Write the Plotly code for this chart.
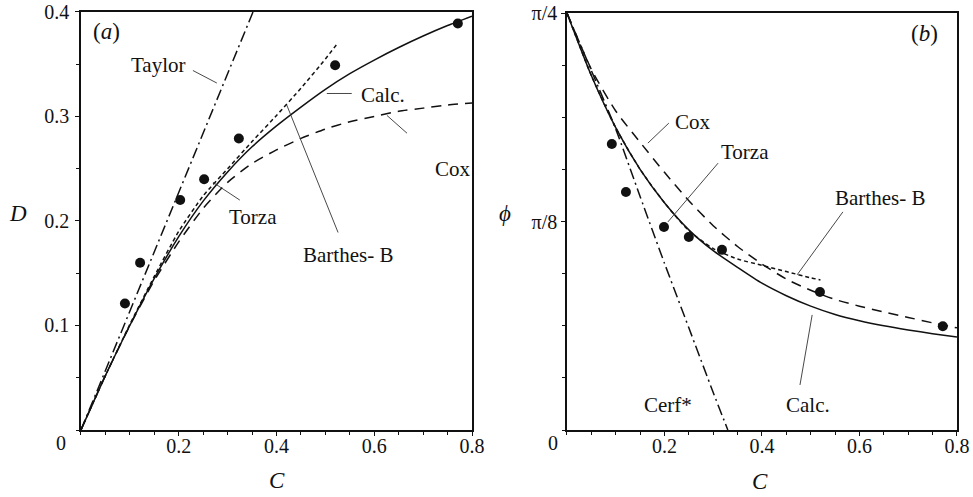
import math
import plotly.graph_objects as go

# ---------------- data: panel (a) ----------------
C_grid = [0.0, 0.05, 0.10, 0.15, 0.20, 0.25, 0.30, 0.35, 0.40, 0.45, 0.50, 0.55, 0.60, 0.65, 0.70, 0.75, 0.80]
D_calc = [0.0, 0.052, 0.100, 0.145, 0.185, 0.219, 0.247, 0.271, 0.291, 0.309, 0.326, 0.341, 0.354, 0.366, 0.377, 0.387, 0.396]
D_cox = [0.0, 0.052, 0.100, 0.143, 0.180, 0.212, 0.237, 0.255, 0.268, 0.279, 0.288, 0.295, 0.300, 0.305, 0.308, 0.311, 0.313]
C_barthes_a = [0.0, 0.05, 0.10, 0.15, 0.20, 0.25, 0.30, 0.35, 0.40, 0.45, 0.50, 0.525]
D_barthes = [0.0, 0.052, 0.101, 0.147, 0.190, 0.224, 0.250, 0.276, 0.301, 0.327, 0.355, 0.370]
C_taylor = [0.0, 0.352]
D_taylor = [0.0, 0.400]
C_exp_a = [0.09, 0.121, 0.203, 0.252, 0.323, 0.52, 0.771]
D_exp = [0.121, 0.160, 0.220, 0.240, 0.279, 0.349, 0.389]

# ---------------- data: panel (b) (phi in radians) ----------------
Q = math.pi / 4
phi_calc = [Q * f for f in [1.0, 0.850, 0.725, 0.625, 0.545, 0.480, 0.430, 0.390, 0.352, 0.322, 0.297, 0.277, 0.262, 0.250, 0.240, 0.231, 0.223]]
phi_cox = [Q * f for f in [1.0, 0.865, 0.765, 0.690, 0.618, 0.550, 0.490, 0.440, 0.398, 0.362, 0.335, 0.313, 0.297, 0.283, 0.270, 0.257, 0.245]]
C_barthes_b = [0.0, 0.05, 0.10, 0.15, 0.20, 0.25, 0.30, 0.35, 0.40, 0.45, 0.50, 0.52]
phi_barthes = [Q * f for f in [1.0, 0.850, 0.725, 0.625, 0.545, 0.478, 0.435, 0.410, 0.395, 0.380, 0.365, 0.360]]
C_cerf = [0.0, 0.05, 0.10, 0.15, 0.20, 0.25, 0.30, 0.33]
phi_cerf = [Q * f for f in [1.0, 0.862, 0.722, 0.560, 0.400, 0.245, 0.090, 0.0]]
C_exp_b = [0.092, 0.121, 0.199, 0.250, 0.318, 0.519, 0.771]
phi_exp = [Q * f for f in [0.686, 0.571, 0.487, 0.463, 0.432, 0.331, 0.249]]

x_ticks = [0.2, 0.4, 0.6, 0.8]
x_ticktext = ["0.2", "0.4", "0.6", "0.8"]
ya_ticks = [0.1, 0.2, 0.3, 0.4]
ya_ticktext = ["0.1", "0.2", "0.3", "0.4"]
yb_ticks = [math.pi / 8, math.pi / 4]
yb_ticktext = ["π/8", "π/4"]

FONT = "Liberation Serif"
LW = 1.5
BLACK = "#111"
LBL = 21

fig = go.Figure()

def line(x, y, dash, xa, ya, w=LW):
    fig.add_trace(go.Scatter(x=x, y=y, mode="lines", xaxis=xa, yaxis=ya,
                             line=dict(color=BLACK, width=w, dash=dash, shape="spline", smoothing=0.6),
                             showlegend=False, hoverinfo="skip"))

# panel a
line(C_taylor, D_taylor, "11px,4px,2px,4px", "x", "y")
line(C_grid, D_calc, "solid", "x", "y")
line(C_grid, D_cox, "10px,7px", "x", "y")
line(C_barthes_a, D_barthes, "4px,3px", "x", "y")
fig.add_trace(go.Scatter(x=C_exp_a, y=D_exp, mode="markers", xaxis="x", yaxis="y",
                         marker=dict(color=BLACK, size=10), showlegend=False))
# panel b
line(C_cerf, phi_cerf, "11px,4px,2px,4px", "x2", "y2")
line(C_grid, phi_calc, "solid", "x2", "y2")
line(C_grid, phi_cox, "10px,7px", "x2", "y2")
line(C_barthes_b, phi_barthes, "4px,3px", "x2", "y2")
fig.add_trace(go.Scatter(x=C_exp_b, y=phi_exp, mode="markers", xaxis="x2", yaxis="y2",
                         marker=dict(color=BLACK, size=10), showlegend=False))

axis_common = dict(showline=True, mirror=True, linecolor=BLACK, linewidth=1.5,
                   ticks="outside", ticklen=4, tickwidth=1, tickcolor=BLACK,
                   showgrid=False, zeroline=False, tickmode="array", automargin=False,
                   tickfont=dict(family=FONT, size=20, color=BLACK))

fig.update_layout(
    template="none",
    width=973, height=497,
    margin=dict(l=0, r=0, t=0, b=0, pad=0),
    paper_bgcolor="white", plot_bgcolor="white",
    xaxis=dict(domain=[0.0832, 0.4851], range=[0, 0.8], tickvals=x_ticks, ticktext=x_ticktext, ticklabelstandoff=-7,
               minor=dict(ticks="outside", ticklen=3, dtick=0.05, tick0=0, tickcolor=BLACK), anchor="y", **axis_common),
    yaxis=dict(domain=[0.1348, 0.9759], range=[0, 0.4], tickvals=ya_ticks, ticktext=ya_ticktext, ticklabelstandoff=2,
               minor=dict(ticks="outside", ticklen=3, dtick=0.05, tick0=0, tickcolor=BLACK), anchor="x", **axis_common),
    xaxis2=dict(domain=[0.5827, 0.9835], range=[0, 0.8], tickvals=x_ticks, ticktext=x_ticktext, ticklabelstandoff=-7,
                minor=dict(ticks="outside", ticklen=3, dtick=0.05, tick0=0, tickcolor=BLACK), anchor="y2", **axis_common),
    yaxis2=dict(domain=[0.1348, 0.9738], range=[0, math.pi / 4], tickvals=yb_ticks, ticktext=yb_ticktext,
                minor=dict(ticks="outside", ticklen=3, dtick=math.pi / 32, tick0=0, tickcolor=BLACK), anchor="x2", **axis_common),
)

def text(x, y, s, xref, yref, size=LBL, italic=False):
    fig.add_annotation(x=x, y=y, xref=xref, yref=yref, text=(f"<i>{s}</i>" if italic else s),
                       xanchor="center", yanchor="middle",
                       showarrow=False, font=dict(family=FONT, size=size, color=BLACK))

def leader(x0, y0, x1, y1, xref, yref):
    fig.add_shape(type="line", x0=x0, y0=y0, x1=x1, y1=y1, xref=xref, yref=yref,
                  line=dict(color="#333", width=0.9))

# panel a labels
text(0.053, 0.381, "(<i>a</i>)", "x", "y", size=23)
text(0.158, 0.349, "Taylor", "x", "y")
leader(0.229, 0.344, 0.278, 0.332, "x", "y")
text(0.618, 0.321, "Calc.", "x", "y")
leader(0.503, 0.322, 0.554, 0.322, "x", "y")
text(0.762, 0.250, "Cox", "x", "y")
leader(0.626, 0.301, 0.667, 0.284, "x", "y")
text(0.352, 0.204, "Torza", "x", "y")
leader(0.270, 0.237, 0.325, 0.220, "x", "y")
text(0.546, 0.167, "Barthes- B", "x", "y")
leader(0.421, 0.311, 0.526, 0.189, "x", "y")

# panel b labels
text(0.734, Q * 0.952, "(<i>b</i>)", "x2", "y2", size=23)
text(0.258, Q * 0.739, "Cox", "x2", "y2")
leader(0.209, Q * 0.736, 0.166, Q * 0.688, "x2", "y2")
text(0.365, Q * 0.667, "Torza", "x2", "y2")
leader(0.310, Q * 0.640, 0.207, Q * 0.499, "x2", "y2")
text(0.642, Q * 0.556, "Barthes- B", "x2", "y2")
leader(0.566, Q * 0.523, 0.472, Q * 0.372, "x2", "y2")
text(0.494, Q * 0.06, "Calc.", "x2", "y2")
leader(0.503, Q * 0.276, 0.478, Q * 0.108, "x2", "y2")
text(0.207, Q * 0.06, "Cerf*", "x2", "y2")

# corner zeros and axis titles (paper coords)
W, H = 973.0, 497.0
def ptext(px, py, s, size=20, italic=False):
    fig.add_annotation(x=px / W, y=1 - py / H, xref="paper", yref="paper", text=(f"<i>{s}</i>" if italic else s),
                       xanchor="center", yanchor="middle",
                       showarrow=False, font=dict(family=FONT, size=size, color=BLACK))

ptext(61, 443, "0")
ptext(553, 443, "0")
ptext(277, 480, "C", size=23, italic=True)
ptext(760, 481, "C", size=23, italic=True)
ptext(18, 214, "D", size=23, italic=True)
ptext(505, 214, "ϕ", size=23, italic=True)

fig.write_html("out.html")
